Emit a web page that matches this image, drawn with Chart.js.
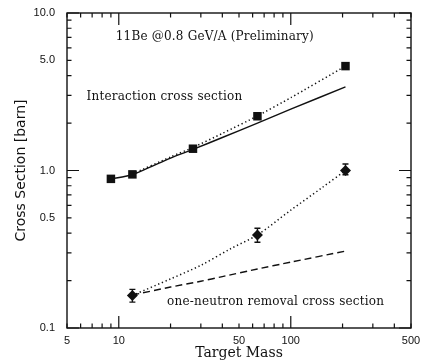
<!DOCTYPE html>
<html>
<head>
<meta charset="utf-8">
<script src="https://cdn.jsdelivr.net/npm/chart.js@4.4.1/dist/chart.umd.min.js"></script>
<style>
  html, body { margin: 0; padding: 0; background: #fff; }
</style>
</head>
<body>
<canvas id="chart" width="422" height="363"></canvas>
<script>
// measured interaction cross sections (squares)
const targetMass = [9, 12, 27, 64, 208];
const interactionSigma = [0.885, 0.945, 1.375, 2.21, 4.6];

// measured one-neutron removal cross sections (diamonds) with error bars
const removalMass = [12, 64, 208];
const removalSigma = [0.161, 0.39, 1.0];
const removalLow = [0.146, 0.35, 0.94];
const removalHigh = [0.176, 0.43, 1.1];

// curves
const theoryMass = [9, 12, 20, 27, 40, 64, 100, 208];
const theorySigma = [0.885, 0.94, 1.2, 1.36, 1.62, 2.0, 2.45, 3.4];
const fitMass = [12, 20, 27, 40, 64, 100, 208];
const fitSigma = [0.95, 1.22, 1.4, 1.72, 2.22, 2.9, 4.6];
const removalTheoryMass = [12, 20, 30, 40, 64, 100, 208];
const removalTheorySigma = [0.162, 0.182, 0.198, 0.212, 0.237, 0.262, 0.308];
const removalFitMass = [12, 20, 30, 45, 64, 100, 150, 208];
const removalFitSigma = [0.161, 0.205, 0.25, 0.32, 0.39, 0.56, 0.77, 1.0];

// axis ticks
const xTicks = [5, 6, 7, 8, 9, 10, 20, 30, 40, 50, 60, 70, 80, 90, 100, 200, 300, 400, 500];
const xTickLabels = ['5', '', '', '', '', '10', '', '', '', '50', '', '', '', '', '100', '', '', '', '500'];
const xMajor = [10, 100];
const yTicks = [0.1, 0.2, 0.3, 0.4, 0.5, 0.6, 0.7, 0.8, 0.9, 1, 2, 3, 4, 5, 6, 7, 8, 9, 10];
const yTickLabels = ['0.1', '', '', '', '0.5', '', '', '', '', '1.0', '', '', '', '5.0', '', '', '', '', '10.0'];
const yMajor = [0.1, 1, 10];

const ink = '#111';

const pts = (xs, ys) => xs.map((x, i) => ({ x: x, y: ys[i] }));

const errorBars = {
    id: 'errorBars',
    afterDatasetsDraw(chart) {
        const { ctx, scales: { x, y } } = chart;
        ctx.save();
        ctx.strokeStyle = ink;
        ctx.lineWidth = 1.4;
        removalMass.forEach((m, i) => {
            const px = x.getPixelForValue(m);
            const top = y.getPixelForValue(removalHigh[i]);
            const bot = y.getPixelForValue(removalLow[i]);
            ctx.beginPath();
            ctx.moveTo(px, top); ctx.lineTo(px, bot);
            ctx.moveTo(px - 3, top); ctx.lineTo(px + 3, top);
            ctx.moveTo(px - 3, bot); ctx.lineTo(px + 3, bot);
            ctx.stroke();
        });
        ctx.restore();
    }
};

const frameTicks = {
    id: 'frameTicks',
    afterDraw(chart) {
        const { ctx, chartArea: a, scales: { x, y } } = chart;
        ctx.save();
        ctx.strokeStyle = ink;
        ctx.lineWidth = 1.4;
        ctx.strokeRect(a.left, a.top, a.right - a.left, a.bottom - a.top);
        ctx.lineWidth = 1.2;
        ctx.beginPath();
        xTicks.forEach(v => {
            const px = x.getPixelForValue(v);
            const len = xMajor.includes(v) ? 12 : 4.5;
            ctx.moveTo(px, a.bottom); ctx.lineTo(px, a.bottom - len);
            ctx.moveTo(px, a.top); ctx.lineTo(px, a.top + len);
        });
        yTicks.forEach(v => {
            const py = y.getPixelForValue(v);
            const len = yMajor.includes(v) ? 12 : 4.5;
            ctx.moveTo(a.left, py); ctx.lineTo(a.left + len, py);
            ctx.moveTo(a.right, py); ctx.lineTo(a.right - len, py);
        });
        ctx.stroke();

        // text labels inside the plot
        ctx.fillStyle = ink;
        ctx.font = '12px "DejaVu Serif"';
        ctx.letterSpacing = '0.2px';
        ctx.textBaseline = 'middle';
        ctx.textAlign = 'left';
        ctx.fillText('11Be @0.8 GeV/A (Preliminary)', x.getPixelForValue(9.6), y.getPixelForValue(7.05));
        ctx.fillText('Interaction cross section', x.getPixelForValue(6.5), y.getPixelForValue(2.93));
        ctx.fillText('one-neutron removal cross section', x.getPixelForValue(19.1), y.getPixelForValue(0.146));
        ctx.restore();
    }
};

new Chart(document.getElementById('chart'), {
    type: 'scatter',
    data: {
        datasets: [
            {
                label: 'Interaction (theory)',
                data: pts(theoryMass, theorySigma),
                showLine: true,
                borderColor: ink,
                borderWidth: 1.4,
                pointRadius: 0,
                tension: 0.2
            },
            {
                label: 'Interaction (fit)',
                data: pts(fitMass, fitSigma),
                showLine: true,
                borderColor: ink,
                borderWidth: 1.5,
                borderDash: [1.3, 2.7],
                pointRadius: 0,
                tension: 0.2
            },
            {
                label: 'Removal (theory)',
                data: pts(removalTheoryMass, removalTheorySigma),
                showLine: true,
                borderColor: ink,
                borderWidth: 1.4,
                borderDash: [7, 4],
                pointRadius: 0,
                tension: 0.2
            },
            {
                label: 'Removal (fit)',
                data: pts(removalFitMass, removalFitSigma),
                showLine: true,
                borderColor: ink,
                borderWidth: 1.5,
                borderDash: [1.3, 2.7],
                pointRadius: 0,
                tension: 0.3
            },
            {
                label: 'Interaction',
                data: pts(targetMass, interactionSigma),
                pointStyle: 'rect',
                pointRadius: 6,
                backgroundColor: ink,
                borderColor: ink,
                borderWidth: 0
            },
            {
                label: 'One-neutron removal',
                data: pts(removalMass, removalSigma),
                pointStyle: 'rectRot',
                pointRadius: 5.5,
                backgroundColor: ink,
                borderColor: ink,
                borderWidth: 0
            }
        ]
    },
    options: {
        responsive: false,
        animation: false,
        layout: { padding: { top: 13, right: 11, left: 0, bottom: 0 } },
        plugins: {
            legend: { display: false },
            tooltip: { enabled: false }
        },
        scales: {
            x: {
                type: 'logarithmic',
                min: 5,
                max: 500,
                afterBuildTicks: s => { s.ticks = xTicks.map(v => ({ value: v })); },
                afterFit: s => {
                    s.height = 35;
                    s.paddingLeft = 0;
                    s.paddingRight = 0;
                },
                grid: { display: true, drawOnChartArea: false, drawTicks: false },
                border: { display: false },
                ticks: {
                    autoSkip: false,
                    maxRotation: 0,
                    padding: 6,
                    color: ink,
                    font: { family: 'Liberation Sans', size: 11 },
                    callback: (v, i) => xTickLabels[i]
                },
                title: {
                    display: true,
                    text: 'Target Mass',
                    color: ink,
                    font: { family: 'DejaVu Serif', size: 14 },
                    padding: { top: 0, bottom: 1 }
                }
            },
            y: {
                type: 'logarithmic',
                min: 0.1,
                max: 10,
                afterBuildTicks: s => { s.ticks = yTicks.map(v => ({ value: v })); },
                afterFit: s => {
                    s.width = 67;
                    s.paddingTop = 0;
                    s.paddingBottom = 0;
                },
                grid: { display: true, drawOnChartArea: false, drawTicks: false },
                border: { display: false },
                ticks: {
                    autoSkip: false,
                    padding: 12,
                    color: ink,
                    font: { family: 'Liberation Sans', size: 11 },
                    callback: (v, i) => yTickLabels[i]
                },
                title: {
                    display: true,
                    text: 'Cross Section [barn]',
                    color: ink,
                    font: { family: 'DejaVu Sans', size: 14 },
                    padding: { top: 13, bottom: 0 }
                }
            }
        }
    },
    plugins: [errorBars, frameTicks]
});
</script>
</body>
</html>
